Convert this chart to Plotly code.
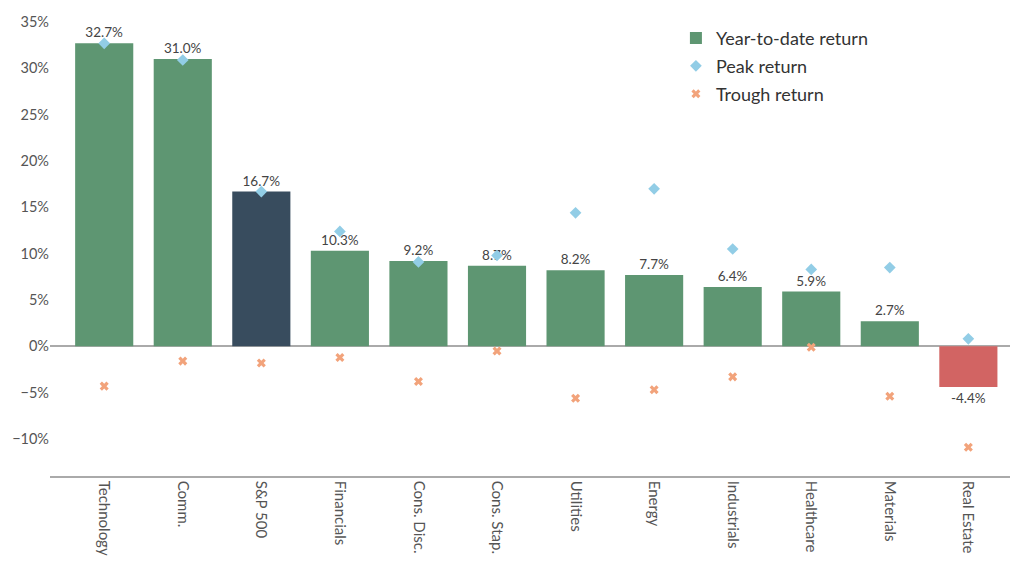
import plotly.graph_objects as go

categories = ["Technology", "Comm.", "S&P 500", "Financials", "Cons. Disc.", "Cons. Stap.",
              "Utilities", "Energy", "Industrials", "Healthcare", "Materials", "Real Estate"]
ytd_return = [32.7, 31.0, 16.7, 10.3, 9.2, 8.7, 8.2, 7.7, 6.4, 5.9, 2.7, -4.4]
peak_return = [32.7, 30.9, 16.7, 12.4, 9.1, 9.8, 14.4, 17.0, 10.5, 8.3, 8.5, 0.8]
trough_return = [-4.3, -1.6, -1.8, -1.2, -3.8, -0.5, -5.6, -4.7, -3.3, -0.1, -5.4, -10.9]
y_ticks = [-10, -5, 0, 5, 10, 15, 20, 25, 30, 35]

GREEN = "#5e9672"
NAVY = "#384c5e"
RED = "#d26463"
bar_colors = [NAVY if c == "S&P 500" else (RED if v < 0 else GREEN)
              for c, v in zip(categories, ytd_return)]
labels = [f"{v:.1f}%" for v in ytd_return]
y_tick_text = [f"{t}%".replace("-", "\u2212") for t in y_ticks]

fig = go.Figure()
fig.add_trace(go.Bar(
    x=categories, y=ytd_return, name="Year-to-date return", legendgroup="a",
    marker=dict(color=bar_colors, line=dict(width=0)),
    text=labels, textposition="outside",
    textfont=dict(size=13.5, color="#444444"),
    cliponaxis=False,
))
fig.add_trace(go.Scatter(
    x=categories, y=peak_return, mode="markers", name="Peak return", legendgroup="b",
    marker=dict(symbol="diamond", size=9, color="#92cde6"),
    cliponaxis=False,
))
fig.add_trace(go.Scatter(
    x=categories, y=trough_return, mode="markers", name="Trough return", legendgroup="c",
    marker=dict(symbol="x", size=8, color="#f2a37b"),
    cliponaxis=False,
))

fig.update_layout(
    width=1011, height=561,
    margin=dict(l=50, r=1, t=22, b=85),
    plot_bgcolor="white", paper_bgcolor="white",
    font=dict(family="Lato, 'Open Sans', sans-serif", color="#555555", size=14),
    bargap=0.26,
    showlegend=True,
    legend=dict(x=0.652, y=1.005, xanchor="left", yanchor="top",
                font=dict(size=18, color="#333333"), bgcolor="rgba(0,0,0,0)",
                tracegroupgap=1.5, itemsizing="trace"),
    xaxis=dict(range=[-0.69, 11.53], tickangle=90, showline=True, linecolor="#aaaaaa",
               linewidth=1.5, showgrid=False, ticks="", tickfont=dict(size=15, color="#555555")),
    yaxis=dict(range=[-14, 35], tickmode="array", tickvals=y_ticks, ticktext=y_tick_text,
               showgrid=False, zeroline=True, zerolinecolor="#aaaaaa",
               zerolinewidth=1.5, showline=False, ticks="", tickfont=dict(size=14.5, color="#555555")),
)

fig.write_html("out.html")
